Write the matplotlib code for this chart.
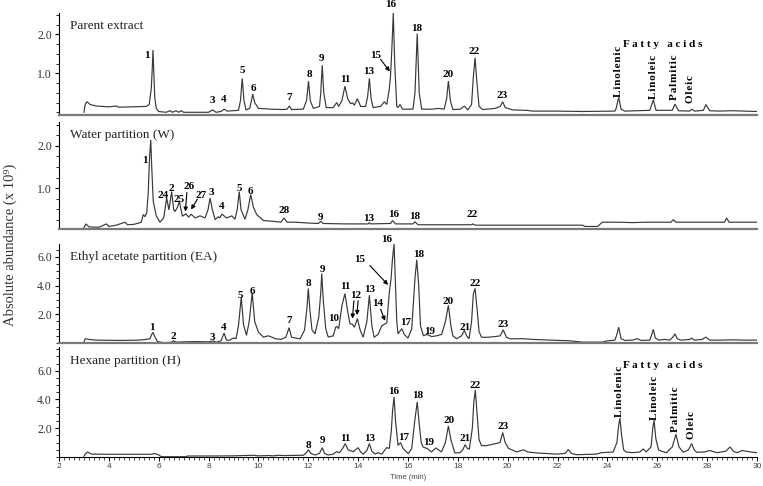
import matplotlib
matplotlib.use("Agg")
import matplotlib.pyplot as plt
from matplotlib.ticker import MultipleLocator

SERIF = ['Liberation Serif', 'DejaVu Serif']
SANS = ['Liberation Sans', 'DejaVu Sans']

# chromatogram traces: (time in min, abundance x 10^9)
parent_trace = [
    (3.0, 0.0), (3.05, 0.2), (3.12, 0.27), (3.25, 0.2), (3.5, 0.16), (4.0, 0.14), (4.3, 0.16),
    (4.4, 0.13), (5.0, 0.14), (5.5, 0.15), (5.62, 0.2), (5.7, 0.6), (5.74, 1.1), (5.77, 1.6),
    (5.8, 1.1), (5.84, 0.4), (5.9, 0.1), (6.0, 0.02), (6.3, 0.0), (6.45, 0.04), (6.55, 0.0),
    (6.7, 0.04), (6.8, 0.0), (6.9, 0.04), (7.0, 0.0), (8.0, 0.0), (8.16, 0.06), (8.3, 0.0),
    (8.5, 0.02), (8.62, 0.08), (8.75, 0.03), (9.2, 0.05), (9.28, 0.3), (9.35, 0.87), (9.42, 0.3),
    (9.5, 0.06), (9.65, 0.1), (9.72, 0.3), (9.77, 0.47), (9.85, 0.25), (10.0, 0.1), (10.5, 0.08),
    (11.0, 0.07), (11.15, 0.08), (11.24, 0.16), (11.33, 0.07), (11.8, 0.08), (11.93, 0.3),
    (12.01, 0.8), (12.08, 0.3), (12.2, 0.1), (12.45, 0.15), (12.5, 0.5), (12.56, 1.21),
    (12.62, 0.5), (12.72, 0.12), (13.0, 0.12), (13.14, 0.25), (13.22, 0.15), (13.35, 0.3),
    (13.47, 0.67), (13.58, 0.35), (13.7, 0.22), (13.78, 0.24), (13.85, 0.18), (13.97, 0.35),
    (14.1, 0.15), (14.3, 0.15), (14.38, 0.4), (14.45, 0.87), (14.52, 0.35), (14.6, 0.12),
    (14.9, 0.15), (15.05, 0.27), (15.15, 0.2), (15.25, 0.6), (15.3, 0.95), (15.35, 1.6),
    (15.41, 2.55), (15.47, 1.2), (15.55, 0.15), (15.6, 0.12), (15.68, 0.2), (15.78, 0.08),
    (16.2, 0.08), (16.28, 0.5), (16.37, 2.02), (16.45, 0.5), (16.55, 0.08), (17.0, 0.08),
    (17.2, 0.1), (17.45, 0.08), (17.55, 0.35), (17.62, 0.8), (17.7, 0.3), (17.8, 0.07),
    (18.1, 0.08), (18.26, 0.16), (18.4, 0.06), (18.55, 0.2), (18.62, 0.9), (18.69, 1.4),
    (18.76, 0.8), (18.85, 0.15), (19.0, 0.07), (19.5, 0.1), (19.7, 0.15), (19.8, 0.27),
    (19.9, 0.12), (20.2, 0.06), (20.76, 0.05), (21.0, 0.03), (22.0, 0.03), (23.0, 0.02),
    (24.3, 0.03), (24.35, 0.1), (24.45, 0.38), (24.55, 0.08), (24.7, 0.03), (25.2, 0.04),
    (25.7, 0.05), (25.84, 0.32), (25.95, 0.05), (26.6, 0.05), (26.71, 0.21), (26.85, 0.04),
    (27.3, 0.03), (27.38, 0.08), (27.5, 0.03), (27.85, 0.05), (27.95, 0.2), (28.1, 0.04),
    (28.5, 0.03), (29.0, 0.04), (29.5, 0.03), (30.0, 0.02),
]

water_trace = [
    (3.0, 0.07), (3.08, 0.16), (3.2, 0.09), (3.6, 0.08), (3.9, 0.16), (4.0, 0.1), (4.3, 0.13),
    (4.65, 0.2), (4.75, 0.14), (5.0, 0.15), (5.2, 0.18), (5.3, 0.2), (5.38, 0.38), (5.45, 0.33),
    (5.52, 0.42), (5.58, 0.9), (5.63, 1.7), (5.68, 2.14), (5.72, 1.5), (5.78, 0.7), (5.9, 0.35),
    (6.05, 0.2), (6.2, 0.3), (6.32, 0.77), (6.41, 0.49), (6.52, 0.92), (6.6, 0.5), (6.65, 0.45),
    (6.75, 0.55), (6.83, 0.69), (6.95, 0.34), (7.09, 0.4), (7.2, 0.32), (7.3, 0.39), (7.46, 0.3),
    (7.66, 0.35), (7.86, 0.3), (7.98, 0.5), (8.06, 0.77), (8.15, 0.5), (8.26, 0.26), (8.39, 0.33),
    (8.45, 0.3), (8.53, 0.39), (8.73, 0.3), (8.93, 0.35), (9.06, 0.27), (9.15, 0.5), (9.23, 0.92),
    (9.3, 0.5), (9.46, 0.27), (9.58, 0.5), (9.69, 0.85), (9.8, 0.55), (9.93, 0.38), (10.2, 0.24),
    (10.6, 0.22), (10.9, 0.2), (11.03, 0.3), (11.15, 0.2), (11.5, 0.2), (12.0, 0.18), (12.4, 0.17),
    (12.5, 0.22), (12.6, 0.17), (13.5, 0.16), (14.4, 0.16), (14.45, 0.19), (14.5, 0.16),
    (15.3, 0.17), (15.38, 0.24), (15.5, 0.16), (16.2, 0.16), (16.28, 0.21), (16.4, 0.14),
    (17.0, 0.14), (18.55, 0.14), (18.6, 0.16), (18.7, 0.13), (20.0, 0.13), (23.0, 0.13),
    (23.1, 0.1), (23.6, 0.1), (23.8, 0.2), (24.5, 0.2), (25.0, 0.19), (25.5, 0.2), (26.0, 0.2),
    (26.55, 0.2), (26.64, 0.26), (26.75, 0.2), (28.0, 0.2), (28.7, 0.2), (28.78, 0.3),
    (28.88, 0.2), (29.2, 0.2), (30.0, 0.2),
]

ea_trace = [
    (3.0, 0.05), (3.05, 0.3), (3.2, 0.25), (3.5, 0.2), (4.5, 0.18), (5.2, 0.2), (5.5, 0.25),
    (5.65, 0.3), (5.72, 0.6), (5.77, 0.74), (5.84, 0.45), (5.95, 0.1), (6.2, 0.02), (6.5, 0.05),
    (6.59, 0.15), (6.7, 0.06), (7.0, 0.08), (7.5, 0.1), (8.0, 0.08), (8.19, 0.15), (8.3, 0.05),
    (8.5, 0.15), (8.62, 0.69), (8.72, 0.2), (8.85, 0.2), (9.0, 0.35), (9.1, 0.3), (9.2, 1.2),
    (9.31, 3.2), (9.4, 1.3), (9.52, 0.53), (9.63, 1.5), (9.75, 3.5), (9.85, 1.5), (10.0, 0.76),
    (10.2, 0.41), (10.4, 0.5), (10.55, 0.4), (10.67, 0.3), (10.9, 0.25), (11.1, 0.4),
    (11.23, 1.07), (11.33, 0.4), (11.67, 0.29), (11.85, 0.9), (11.95, 2.5), (12.0, 3.8),
    (12.07, 2.2), (12.15, 0.9), (12.27, 0.64), (12.42, 1.8), (12.5, 3.5), (12.54, 4.85),
    (12.6, 3.0), (12.7, 1.0), (12.8, 0.41), (13.0, 0.5), (13.1, 1.1), (13.14, 1.16),
    (13.22, 1.0), (13.35, 2.6), (13.47, 3.45), (13.58, 2.2), (13.67, 1.35), (13.77, 1.3),
    (13.85, 1.1), (13.97, 1.7), (14.08, 0.9), (14.2, 0.4), (14.35, 1.5), (14.45, 3.33),
    (14.55, 1.2), (14.64, 0.4), (14.8, 0.6), (14.95, 1.2), (15.05, 1.3), (15.15, 1.4),
    (15.25, 3.5), (15.32, 4.5), (15.38, 5.9), (15.44, 6.9), (15.5, 4.0), (15.55, 1.5),
    (15.6, 0.64), (15.75, 1.0), (15.85, 0.6), (16.0, 0.34), (16.15, 1.0), (16.28, 4.5),
    (16.35, 5.8), (16.43, 4.0), (16.5, 1.2), (16.62, 0.5), (16.75, 0.6), (16.95, 0.45),
    (17.15, 0.5), (17.35, 0.6), (17.5, 1.5), (17.62, 2.63), (17.72, 1.2), (17.8, 0.5),
    (17.95, 0.3), (18.15, 0.5), (18.26, 0.88), (18.35, 0.5), (18.45, 0.3), (18.55, 1.5),
    (18.62, 3.4), (18.69, 3.8), (18.78, 2.2), (18.85, 0.8), (18.95, 0.4), (19.2, 0.4),
    (19.5, 0.45), (19.7, 0.5), (19.82, 0.92), (19.95, 0.4), (20.1, 0.29), (20.6, 0.3),
    (21.0, 0.25), (22.0, 0.18), (22.5, 0.15), (23.0, 0.06), (23.8, 0.06), (24.0, 0.15),
    (24.3, 0.2), (24.38, 0.6), (24.45, 1.1), (24.55, 0.3), (24.7, 0.18), (25.0, 0.2),
    (25.2, 0.3), (25.35, 0.18), (25.7, 0.2), (25.78, 0.6), (25.84, 0.95), (25.92, 0.35),
    (26.05, 0.2), (26.3, 0.25), (26.5, 0.2), (26.62, 0.4), (26.71, 0.64), (26.8, 0.3),
    (26.95, 0.2), (27.3, 0.25), (27.38, 0.34), (27.48, 0.2), (27.8, 0.25), (27.95, 0.41),
    (28.1, 0.2), (28.5, 0.2), (29.0, 0.22), (29.5, 0.2), (30.0, 0.2),
]

hexane_trace = [
    (3.0, 0.05), (3.05, 0.2), (3.14, 0.35), (3.3, 0.2), (4.0, 0.19), (5.0, 0.19), (5.7, 0.19),
    (5.85, 0.24), (6.0, 0.15), (6.1, 0.02), (7.1, 0.02), (7.15, 0.07), (8.0, 0.07), (9.0, 0.08),
    (9.4, 0.1), (9.8, 0.12), (10.0, 0.08), (10.4, 0.1), (10.6, 0.08), (10.8, 0.12), (11.0, 0.1),
    (11.8, 0.12), (11.92, 0.3), (12.01, 0.51), (12.1, 0.25), (12.27, 0.14), (12.45, 0.25),
    (12.56, 0.65), (12.65, 0.25), (12.8, 0.14), (13.0, 0.2), (13.14, 0.37), (13.25, 0.3),
    (13.38, 0.6), (13.48, 0.93), (13.6, 0.5), (13.8, 0.37), (14.0, 0.65), (14.1, 0.35),
    (14.2, 0.19), (14.35, 0.45), (14.45, 0.93), (14.55, 0.4), (14.68, 0.21), (14.8, 0.3),
    (14.95, 0.2), (15.14, 0.65), (15.25, 0.6), (15.33, 1.8), (15.38, 3.2), (15.44, 4.18),
    (15.5, 2.5), (15.6, 0.81), (15.7, 1.0), (15.8, 0.6), (16.01, 0.23), (16.15, 0.6),
    (16.27, 2.5), (16.37, 3.83), (16.45, 2.3), (16.53, 1.0), (16.61, 0.69), (16.78, 0.58),
    (16.94, 0.35), (17.12, 0.63), (17.34, 0.35), (17.5, 1.0), (17.62, 2.16), (17.72, 1.2),
    (17.88, 0.28), (18.08, 0.3), (18.2, 0.5), (18.29, 0.86), (18.38, 0.6), (18.46, 0.54),
    (18.58, 2.0), (18.64, 3.8), (18.7, 4.65), (18.77, 3.0), (18.85, 1.2), (18.95, 0.79),
    (19.15, 0.79), (19.3, 0.85), (19.49, 0.93), (19.69, 1.0), (19.8, 1.7), (19.9, 1.0),
    (20.03, 0.6), (20.36, 0.35), (20.63, 0.5), (20.8, 0.35), (21.18, 0.28), (21.98, 0.2),
    (22.3, 0.25), (22.43, 0.52), (22.55, 0.25), (22.76, 0.16), (23.56, 0.2), (23.76, 0.3),
    (24.23, 0.35), (24.38, 1.0), (24.45, 2.2), (24.5, 2.7), (24.57, 1.5), (24.65, 0.5),
    (24.74, 0.35), (25.0, 0.3), (25.3, 0.35), (25.44, 0.56), (25.55, 0.35), (25.75, 0.7),
    (25.82, 2.0), (25.87, 2.56), (25.94, 1.3), (26.05, 0.5), (26.17, 0.4), (26.37, 0.3),
    (26.6, 0.7), (26.75, 1.58), (26.87, 0.7), (27.04, 0.33), (27.25, 0.5), (27.38, 0.93),
    (27.48, 0.5), (27.58, 0.33), (27.9, 0.35), (28.1, 0.45), (28.4, 0.3), (28.75, 0.4),
    (28.92, 0.7), (29.05, 0.4), (29.2, 0.3), (29.4, 0.45), (29.75, 0.35), (30.0, 0.3),
]

# peak number labels: (text, time, abundance) where the label is centred
parent_labels = [("1", 5.53, 1.47), ("3", 8.14, 0.29), ("4", 8.62, 0.34), ("5", 9.34, 1.08),
                 ("6", 9.78, 0.62), ("7", 11.23, 0.37), ("8", 12.03, 0.96), ("9", 12.55, 1.39),
                 ("11", 13.47, 0.83), ("13", 14.43, 1.06), ("15", 14.72, 1.47), ("16", 15.32, 2.78),
                 ("18", 16.36, 2.16), ("20", 17.6, 0.96), ("22", 18.65, 1.55), ("23", 19.77, 0.42)]
water_labels = [("1", 5.45, 1.65), ("24", 6.16, 0.82), ("2", 6.49, 0.99), ("25", 6.83, 0.73),
                ("26", 7.23, 1.04), ("27", 7.68, 0.82), ("3", 8.1, 0.91), ("4", 8.53, 0.56),
                ("5", 9.23, 1.0), ("6", 9.69, 0.92), ("28", 11.03, 0.48), ("9", 12.47, 0.3),
                ("13", 14.41, 0.28), ("16", 15.41, 0.38), ("18", 16.28, 0.34), ("22", 18.59, 0.38)]
ea_labels = [("1", 5.74, 1.11), ("2", 6.59, 0.48), ("3", 8.16, 0.41), ("4", 8.59, 1.11),
             ("5", 9.29, 3.33), ("6", 9.75, 3.61), ("7", 11.24, 1.58), ("8", 12.0, 4.15),
             ("9", 12.56, 5.14), ("10", 13.03, 1.7), ("11", 13.47, 3.92), ("12", 13.9, 3.33),
             ("13", 14.45, 3.73), ("14", 14.77, 2.75), ("15", 14.07, 5.84), ("16", 15.14, 7.19),
             ("17", 15.92, 1.46), ("18", 16.41, 6.14), ("19", 16.85, 0.83), ("20", 17.62, 2.91),
             ("21", 18.3, 1.07), ("22", 18.69, 4.15), ("23", 19.8, 1.3)]
hexane_labels = [("8", 12.0, 0.82), ("9", 12.56, 1.16), ("11", 13.5, 1.32), ("13", 14.45, 1.28),
                 ("16", 15.44, 4.58), ("17", 15.81, 1.39), ("18", 16.37, 4.25), ("19", 16.82, 1.0),
                 ("20", 17.64, 2.56), ("21", 18.29, 1.32), ("22", 18.69, 4.95), ("23", 19.8, 2.09)]

# arrows: (from time, from abundance, to time, to abundance)
parent_arrows = [(14.9, 1.36, 15.27, 1.05)]
water_arrows = [(7.13, 0.9, 7.07, 0.45), (7.55, 0.74, 7.3, 0.5)]
ea_arrows = [(14.47, 5.4, 15.2, 4.05), (13.83, 2.95, 13.77, 1.7), (14.0, 2.95, 13.95, 1.95),
             (14.9, 2.35, 15.08, 1.55)]

fatty_acids = ["Linolenic", "Linoleic", "Palmitic", "Oleic"]
parent_fa_pos = [(24.46, 0.39), (25.83, 0.34), (26.71, 0.32), (27.35, 0.24)]
hexane_fa_pos = [(24.5, 2.79), (25.87, 2.6), (26.75, 1.74), (27.39, 1.28)]

titles = ["Parent extract", "Water partition (W)", "Ethyl acetate partition (EA)",
          "Hexane partition (H)"]
traces = [parent_trace, water_trace, ea_trace, hexane_trace]
labels = [parent_labels, water_labels, ea_labels, hexane_labels]
arrows = [parent_arrows, water_arrows, ea_arrows, []]
ylims = [(-0.07, 2.55), (0.04, 2.56), (0, 6.9), (0, 7.65)]
yticks = [[1.0, 2.0], [1.0, 2.0], [2.0, 4.0, 6.0], [2.0, 4.0, 6.0]]
yminor = [0.25, 0.25, 0.5, 0.5]

W, H = 763, 486
fig = plt.figure(figsize=(W / 100, H / 100), dpi=100)
# axes boxes in pixels: (top, bottom)
boxes = [(13, 115), (122, 229), (244, 343), (347, 457)]
left, right = 59, 757


def spaced(word):
    # the original lettering is slightly tracked out
    return "\u200a".join(word)


axes = []
for i, (top, bot) in enumerate(boxes):
    ax = fig.add_axes([left / W, 1 - bot / H, (right - left) / W, (bot - top) / H])
    axes.append(ax)
    t = [p[0] for p in traces[i]]
    v = [p[1] for p in traces[i]]
    ax.plot(t, v, color='#383838', lw=0.85, solid_joinstyle='miter')
    ax.set_xlim(2, 30)
    ax.set_ylim(*ylims[i])
    for s in ['top', 'right']:
        ax.spines[s].set_visible(False)
    ax.spines['left'].set_linewidth(0.8)
    ax.set_yticks(yticks[i])
    ax.set_yticklabels(["%.1f" % y for y in yticks[i]], fontfamily=SERIF, fontsize=8.5,
                       color='#333333')
    ax.yaxis.set_minor_locator(MultipleLocator(yminor[i]))
    ax.tick_params(axis='y', which='major', direction='out', length=3, width=0.8, pad=2)
    ax.tick_params(axis='y', which='minor', direction='out', length=2, width=0.6)
    ax.text(0.016, 0.93, titles[i], transform=ax.transAxes,
            fontfamily=SERIF, fontsize=9.5, va='top', ha='left', color='#222222')
    for txt, tx, ty in labels[i]:
        ax.text(tx, ty, txt, fontfamily=SERIF, fontsize=8, fontweight='bold',
                ha='center', va='center', clip_on=False)
    for x0, y0, x1, y1 in arrows[i]:
        ax.annotate("", xy=(x1, y1), xytext=(x0, y0),
                    arrowprops=dict(arrowstyle='-|>', color='black', lw=0.8,
                                    mutation_scale=6, shrinkA=0, shrinkB=0))
    if i < 3:
        ax.set_xticks([])
        ax.spines['bottom'].set_color('#7a7a7a')
        ax.spines['bottom'].set_linewidth(1.6)
    else:
        ax.spines['bottom'].set_linewidth(0.8)
        ax.set_xticks(range(2, 31, 2))
        ax.set_xticklabels([str(x) for x in range(2, 31, 2)], fontfamily=SANS, fontsize=6,
                           color='#444444')
        ax.xaxis.set_minor_locator(MultipleLocator(0.2))
        ax.tick_params(axis='x', which='major', direction='out', length=3, width=0.7, pad=1.5)
        ax.tick_params(axis='x', which='minor', direction='out', length=2, width=0.5)
        ax.set_xlabel("Time (min)", fontfamily=SANS, fontsize=5.5, color='#444444', labelpad=3)

# fatty acid annotations
axes[0].text(26.2, 1.73, "F a t t y   a c i d s", fontfamily=SERIF, fontsize=8,
             fontweight='bold', ha='center', va='center')
axes[3].text(26.2, 6.39, "F a t t y   a c i d s", fontfamily=SERIF, fontsize=8,
             fontweight='bold', ha='center', va='center', clip_on=False)
for name, (tx, ty) in zip(fatty_acids, parent_fa_pos):
    axes[0].text(tx, ty, spaced(name), rotation=90, fontfamily=SERIF, fontsize=8,
                 fontweight='bold', ha='center', va='bottom')
for name, (tx, ty) in zip(fatty_acids, hexane_fa_pos):
    axes[3].text(tx, ty, spaced(name), rotation=90, fontfamily=SERIF, fontsize=8,
                 fontweight='bold', ha='center', va='bottom')

fig.text(10 / W, 1 - 245 / H, "Absolute abundance (x 10\u2079)", rotation=90,
         fontfamily=SERIF, fontsize=10.5, ha='center', va='center', color='#333333')

fig.savefig("out.png", dpi=100)
